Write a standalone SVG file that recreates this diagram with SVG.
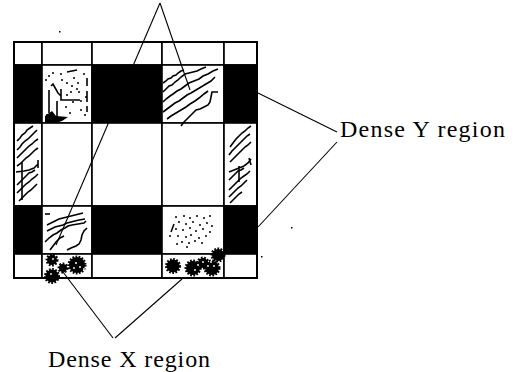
<svg xmlns="http://www.w3.org/2000/svg" width="515" height="372" viewBox="0 0 515 372">
<style>
.cell{fill:#fff;stroke:#000;stroke-width:1.6}
.cell.blk{fill:#000}
.blk{fill:#000}
.tex{fill:none;stroke:#000;stroke-width:1.6;stroke-linejoin:miter}
.dot{fill:#000}
.conn{fill:none;stroke:#000;stroke-width:1.1}
.lbl{font-family:'Liberation Serif','DejaVu Serif',serif;font-size:24px;fill:#000}
.blob{fill:#000;stroke:#000;stroke-width:3;stroke-dasharray:1.6 1.4}
.hole{fill:#fff}
</style>
<rect width="515" height="372" fill="#fff"/>
<g id="grid">
  <rect class="cell" x="14" y="42" width="28" height="23"/>
  <rect class="cell" x="42" y="42" width="50" height="23"/>
  <rect class="cell" x="92" y="42" width="70" height="23"/>
  <rect class="cell" x="162" y="42" width="62" height="23"/>
  <rect class="cell" x="224" y="42" width="33" height="23"/>
  <rect class="cell blk" x="14" y="65" width="28" height="58"/>
  <rect class="cell" x="42" y="65" width="50" height="58"/>
  <rect class="cell blk" x="92" y="65" width="70" height="58"/>
  <rect class="cell" x="162" y="65" width="62" height="58"/>
  <rect class="cell blk" x="224" y="65" width="33" height="58"/>
  <rect class="cell" x="14" y="123" width="28" height="83"/>
  <rect class="cell" x="42" y="123" width="50" height="83"/>
  <rect class="cell" x="92" y="123" width="70" height="83"/>
  <rect class="cell" x="162" y="123" width="62" height="83"/>
  <rect class="cell" x="224" y="123" width="33" height="83"/>
  <rect class="cell blk" x="14" y="206" width="28" height="48"/>
  <rect class="cell" x="42" y="206" width="50" height="48"/>
  <rect class="cell blk" x="92" y="206" width="70" height="48"/>
  <rect class="cell" x="162" y="206" width="62" height="48"/>
  <rect class="cell blk" x="224" y="206" width="33" height="48"/>
  <rect class="cell" x="14" y="254" width="28" height="24"/>
  <rect class="cell" x="42" y="254" width="50" height="24"/>
  <rect class="cell" x="92" y="254" width="70" height="24"/>
  <rect class="cell" x="162" y="254" width="62" height="24"/>
  <rect class="cell" x="224" y="254" width="33" height="24"/>
  <rect x="14" y="42" width="243" height="236" fill="none" stroke="#000" stroke-width="2"/>
</g>
<g id="cell-r2c2">
  <g class="dot">
    <circle cx="49" cy="76" r="1"/><circle cx="46" cy="80" r="1"/><circle cx="53" cy="73" r="1"/>
    <circle cx="61" cy="74" r="1"/><circle cx="74" cy="78" r="1"/><circle cx="78" cy="83" r="1"/>
    <circle cx="72" cy="86" r="1"/><circle cx="77" cy="89" r="1"/><circle cx="71" cy="92" r="1"/>
    <circle cx="79" cy="92" r="1"/><circle cx="67" cy="95" r="1"/><circle cx="81" cy="101" r="1"/>
    <circle cx="73" cy="102" r="1"/><circle cx="66" cy="107" r="1"/><circle cx="81" cy="110" r="1"/>
    <circle cx="70" cy="113" r="1"/><circle cx="62" cy="80" r="1"/><circle cx="67" cy="83" r="1"/>
    <circle cx="84" cy="74" r="1"/><circle cx="86" cy="97" r="1"/><circle cx="85" cy="115" r="1"/>
  </g>
  <path class="tex" d="M67 72 L77 70 M87 78 L87 86 M87 91 L87 102 M87 106 L87 112"/>
  <path class="tex" d="M49 90 L49 113 M51 86 L53 84 L58 93 L61 96 M61 89 L61 100 L80 100 M57 101 L57 118 M47 114 L47 121"/>
  <path class="blk" d="M45 116 L52 111 L56 116 L68 117 L62 121 L56 123 L45 123 Z"/>
</g>
<g id="cell-r2c4">
  <path class="tex" d="M163 83 L166 81 L168 79 L171 78 L173 76 L176 75 L178 73 L181 71 L184 70"/>
  <path class="tex" d="M163 92 L166 89 L169 86 L172 85 L175 82 L178 80 L181 77 L185 74 L189 73 L193 72 L197 71 L201 69 L206 67"/>
  <path class="tex" d="M163 102 L166 99 L170 96 L173 94 L177 91 L181 89 L185 86 L189 83 L194 81 L199 79 L203 76 L208 74 L213 71 L218 69"/>
  <path class="tex" d="M163 112 L167 109 L171 106 L175 103 L179 101 L183 98 L187 95 L191 93 L196 90 L201 87 L206 84 L211 81 L215 77"/>
  <path class="tex" d="M167 119 L171 116 L176 113 L181 110 L186 107 L190 104 L195 101 L199 98 L204 94 L208 91"/>
  <path class="tex" d="M181 126 L184 122 L187 119 L190 116 L193 113 L196 110 L200 109 L204 107 L208 105 L210 102 L211 97 L212 92 L218 92"/>
</g>
<g id="cell-r3c1">
  <path class="tex" d="M17 141 L20 138 L22 135 L25 133 L27 130 L30 128 L33 126"/>
  <path class="tex" d="M17 150 L20 147 L22 144 L25 141 L28 139 L31 136 L34 133 L37 130"/>
  <path class="tex" d="M17 158 L20 155 L23 152 L26 149 L29 146 L32 144 L35 141 L38 139"/>
  <path class="tex" d="M17 166 L20 164 L23 161 L26 158 L29 156 L32 153 L35 150 L38 148"/>
  <path class="tex" d="M22 162 L22 200 M16 172 L24 171 L29 170 L34 168 L38 164 M38 160 L38 168"/>
  <path class="tex" d="M17 185 L20 182 L23 179 L26 176 L29 173 L32 172 L35 170"/>
  <path class="tex" d="M17 193 L20 190 L23 187 L26 184 L29 182 L32 179 L35 177 L38 174"/>
  <path class="tex" d="M19 201 L22 198 L25 195 L28 192 L31 190 L34 187 L37 184"/>
</g>
<g id="cell-r3c5">
  <path class="tex" d="M230 147 L233 143 L236 139 L239 136 L242 133 L245 131 L248 128 L251 126"/>
  <path class="tex" d="M229 155 L232 151 L235 148 L238 145 L241 142 L244 139 L247 136 L250 134"/>
  <path class="tex" d="M230 162 L233 159 L236 156 L239 153 L242 150 L245 147 L248 145 L251 142"/>
  <path class="tex" d="M239 166 L239 182 M229 172 L234 170 L239 168 L244 166 L248 163 L251 159 M249 158 L251 165"/>
  <path class="tex" d="M229 180 L232 177 L235 174 L238 171 L241 170 L244 168"/>
  <path class="tex" d="M229 190 L232 187 L235 184 L238 181 L241 178 L244 176 L247 174 L250 171"/>
  <path class="tex" d="M229 197 L232 194 L235 191 L238 188 L241 186 L244 183 L247 180"/>
  <path class="tex" d="M230 203 L233 200 L236 197 L239 194 L242 192"/>
</g>
<g id="cell-r4c2">
  <path class="tex" d="M45 214 L50 214"/>
  <path class="tex" d="M47 225 L51 223 L55 221 L59 219 L63 218 L67 217 L71 216 L75 215 L79 214 L83 213"/>
  <path class="tex" d="M47 231 L51 229 L55 227 L59 226 L63 225 L67 223 L71 222 L75 221 L79 220 L85 219"/>
  <path class="tex" d="M45 242 L49 238 L53 235 L57 233 L61 230 L65 228 L68 226 L72 225 L78 224 L84 223 L86 221"/>
  <path class="tex" d="M50 250 L53 246 L56 242 L60 238 L64 236"/>
  <path class="tex" d="M67 250 L71 248 L76 246 L79 244 L81 240 L82 235 L84 231 L87 228"/>
</g>
<g id="cell-r4c4">
  <path class="tex" d="M171 232 L174 224"/>
  <g class="dot">
    <circle cx="176" cy="217" r="1"/><circle cx="184" cy="216" r="1"/><circle cx="190" cy="218" r="1"/>
    <circle cx="197" cy="216" r="1"/><circle cx="204" cy="218" r="1"/><circle cx="210" cy="216" r="1"/>
    <circle cx="179" cy="222" r="1"/><circle cx="186" cy="224" r="1"/><circle cx="193" cy="222" r="1"/>
    <circle cx="200" cy="225" r="1"/><circle cx="207" cy="223" r="1"/><circle cx="212" cy="226" r="1"/>
    <circle cx="176" cy="229" r="1"/><circle cx="183" cy="230" r="1"/><circle cx="190" cy="228" r="1"/>
    <circle cx="196" cy="231" r="1"/><circle cx="203" cy="229" r="1"/><circle cx="210" cy="232" r="1"/>
    <circle cx="170" cy="236" r="1"/><circle cx="178" cy="236" r="1"/><circle cx="186" cy="237" r="1"/>
    <circle cx="191" cy="235" r="1"/><circle cx="199" cy="238" r="1"/><circle cx="206" cy="236" r="1"/>
    <circle cx="182" cy="242" r="1"/><circle cx="189" cy="243" r="1"/><circle cx="195" cy="241" r="1"/>
    <circle cx="202" cy="243" r="1"/><circle cx="187" cy="247" r="1"/><circle cx="177" cy="244" r="1"/>
  </g>
</g>
<g id="blobs-c2">
  <circle class="blob" cx="52" cy="260" r="5"/>
  <circle class="blob" cx="77" cy="265" r="8"/>
  <circle class="blob" cx="52" cy="276" r="6.5"/>
  <circle class="blob" cx="63" cy="268" r="4"/>
  <g class="hole">
    <circle cx="53" cy="259" r="0.9"/><circle cx="76" cy="263" r="1"/><circle cx="80" cy="267" r="1"/>
    <circle cx="74" cy="268" r="0.9"/><circle cx="84" cy="269" r="0.9"/><circle cx="51" cy="274" r="0.9"/>
  </g>
</g>
<g id="blobs-c4">
  <circle class="blob" cx="173" cy="266" r="6.5"/>
  <circle class="blob" cx="193" cy="268" r="7"/>
  <circle class="blob" cx="203" cy="263" r="5"/>
  <circle class="blob" cx="212" cy="268" r="7"/>
  <circle class="blob" cx="218" cy="255" r="6"/>
  <g class="hole">
    <circle cx="198" cy="265" r="0.9"/><circle cx="203" cy="262" r="0.9"/><circle cx="208" cy="266" r="0.9"/>
    <circle cx="211" cy="262" r="0.9"/><circle cx="214" cy="266" r="0.9"/><circle cx="195" cy="270" r="0.9"/>
  </g>
</g>
<g id="connectors">
  <path class="conn" d="M160 3 L56 245"/>
  <path class="conn" d="M160 3 L190 90"/>
  <path class="conn" d="M258 93 L337 132"/>
  <path class="conn" d="M337 142 L258 227"/>
  <path class="conn" d="M63 272 L113 338"/>
  <path class="conn" d="M182 279 L115 338"/>
</g>
<g id="specks" class="dot">
  <rect x="59" y="31" width="1.5" height="1.5"/>
  <rect x="291" y="227" width="1.5" height="1.5"/>
  <rect x="261" y="256" width="1.5" height="1.5"/>
</g>
<g id="label-dense-y">
  <text class="lbl" font-family="Liberation Serif, DejaVu Serif, serif" x="340" y="137" textLength="165" lengthAdjust="spacing">Dense Y region</text>
</g>
<g id="label-dense-x">
  <text class="lbl" font-family="Liberation Serif, DejaVu Serif, serif" x="48" y="367" textLength="162" lengthAdjust="spacing">Dense X region</text>
</g>
</svg>
